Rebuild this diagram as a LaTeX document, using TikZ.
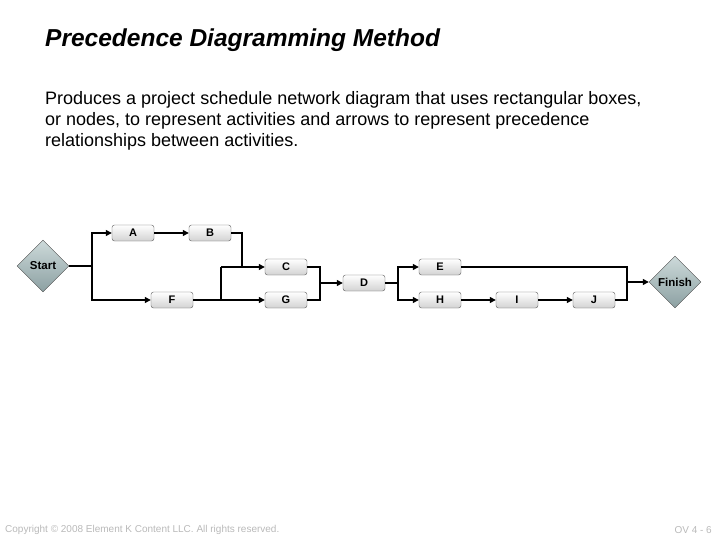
\documentclass[tikz,border=0pt]{standalone}
\usepackage{fontspec}
\setmainfont{Liberation Sans}
\usetikzlibrary{shapes.geometric,arrows.meta}
\definecolor{dia1}{RGB}{205,218,218}
\definecolor{dia2}{RGB}{140,160,162}
\begin{document}
\begin{tikzpicture}[x=1pt,y=-1pt,
  act/.style={draw=gray!70!black,rounded corners=2.5pt,top color=white,bottom color=gray!35,minimum width=42pt,minimum height=16pt,inner sep=0pt,font=\bfseries\fontsize{11}{12}\selectfont},
  ms/.style={diamond,draw=gray!60!black,top color=dia1,bottom color=dia2,minimum width=52pt,minimum height=52pt,inner sep=0pt,font=\bfseries\fontsize{11.5}{12}\selectfont},
  ln/.style={line width=1.2pt},
  ar/.style={ln,-{Triangle[length=6pt,width=6pt]}}]
\useasboundingbox (0,0) rectangle (720,540);
\node[anchor=west,inner sep=0pt,font=\bfseries\itshape\fontsize{24.5}{26}\selectfont] (title) at (45,40) {Precedence Diagramming Method};
\node[anchor=north west,align=left,font=\fontsize{18}{21}\selectfont,inner sep=0pt] (body) at (45,91) {Produces a project schedule network diagram that uses rectangular boxes,\\or nodes, to represent activities and arrows to represent precedence\\relationships between activities.};
\node[ms] (start) at (43,266) {Start};
\node[ms] (finish) at (675,282) {Finish};
\node[act] (A) at (133,233) {A};
\node[act] (B) at (210,233) {B};
\node[act] (C) at (286,267) {C};
\node[act] (F) at (172,300) {F};
\node[act] (G) at (286,300) {G};
\node[act] (D) at (364,283) {D};
\node[act] (E) at (440,267) {E};
\node[act] (H) at (440,300) {H};
\node[act] (I) at (517,300) {I};
\node[act] (J) at (594,300) {J};
\coordinate (s1) at (92,266);
\coordinate (c1) at (221,267);
\coordinate (m1) at (320,283);
\coordinate (d1) at (398,283);
\coordinate (f1) at (627,282);
\draw[ln] (start.east) -- (s1);
\draw[ar] (s1) |- (A.west);
\draw[ar] (s1) |- (F.west);
\draw[ar] (A) -- (B);
\draw[ln] (B.east) -| (242,267);
\draw[ar] (c1) -- (C.west);
\draw[ln] (F.east) -- (c1|-F.east) -- (c1);
\draw[ar] (F.east) -- (G.west);
\draw[ln] (C.east) -| (m1);
\draw[ln] (G.east) -| (m1);
\draw[ar] (m1) -- (D.west);
\draw[ln] (D.east) -- (d1);
\draw[ar] (d1) |- (E.west);
\draw[ar] (d1) |- (H.west);
\draw[ar] (H) -- (I);
\draw[ar] (I) -- (J);
\draw[ln] (E.east) -| (f1);
\draw[ln] (J.east) -| (f1);
\draw[ar] (f1) -- (finish.west);
\node[anchor=west,inner sep=0pt,text=gray!55,font=\fontsize{10}{11}\selectfont] (copy) at (5,530) {Copyright © 2008 Element K Content LLC. All rights reserved.};
\node[anchor=east,inner sep=0pt,text=gray!55,font=\fontsize{10}{11}\selectfont] (pg) at (712,530) {OV 4 - 6};
\end{tikzpicture}
\end{document}
